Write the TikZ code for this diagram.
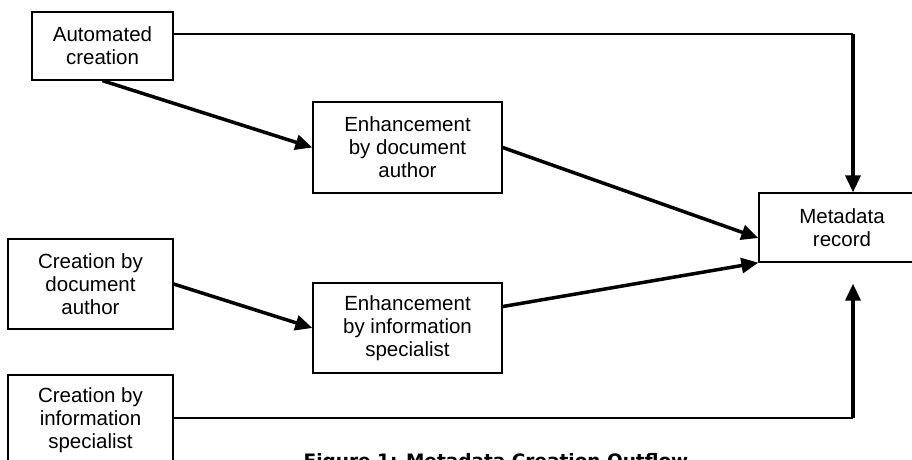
\documentclass[tikz,border=0pt]{standalone}
\usepackage{fontspec}
\setmainfont{Liberation Sans}
\newfontfamily\capfont{DejaVu Sans}
\usetikzlibrary{arrows.meta, calc, positioning}

\begin{document}
\begin{tikzpicture}[x=1pt,y=-1pt,
        block/.style={draw, line width=1.3pt, align=center, inner sep=0pt,
            font=\fontsize{20.5}{23}\selectfont},
        link/.style={line width=1.5pt},
        flow/.style={-{Triangle[length=17pt,width=15pt]}, line width=3.5pt}]
        \clip (0,0) rectangle (912,460);

        \node[block, minimum width=141pt, minimum height=68pt] (auto)     at (102.5,46)  {Automated\\creation};
        \node[block, minimum width=189pt, minimum height=91pt] (enh_doc)  at (407.5,147.5) {Enhancement\\by document\\author};
        \node[block, minimum width=166pt, minimum height=69pt] (meta)     at (842,227.5) {Metadata\\record};
        \node[block, minimum width=165pt, minimum height=90pt] (cre_doc)  at (90.5,284)  {Creation by\\document\\author};
        \node[block, minimum width=189pt, minimum height=90pt] (enh_info) at (407.5,328) {Enhancement\\by information\\specialist};
        \node[block, minimum width=165pt, minimum height=90pt] (cre_info) at (90.5,420)  {Creation by\\information\\specialist};

        \coordinate (top_bend) at (853,34);
        \coordinate (bot_bend) at (853,418);

        % straight lines round the outside
        \draw[link] (auto.east |- top_bend) -- (top_bend);
        \draw[flow] (top_bend) -- (top_bend |- meta.north);
        \draw[link] (cre_info.east |- bot_bend) -- (bot_bend);
        \draw[flow, shorten >=21pt] (bot_bend) -- (bot_bend |- meta.south);

        % the two enhancement paths
        \draw[flow] (auto.south) -- (enh_doc.west);
        \draw[flow] (enh_doc.east) -- ($(meta.west)!0.3!(meta.south west)$);
        \draw[flow] (cre_doc.east) -- (enh_info.west);
        \draw[flow] ($(enh_info.east)!0.47!(enh_info.north east)$) -- (meta.south west);

        \node[anchor=base, font=\capfont\bfseries\fontsize{18.5}{20}\selectfont] (caption) at (496,467)
            {Figure 1: Metadata Creation Outflow};
    \end{tikzpicture}
\end{document}
